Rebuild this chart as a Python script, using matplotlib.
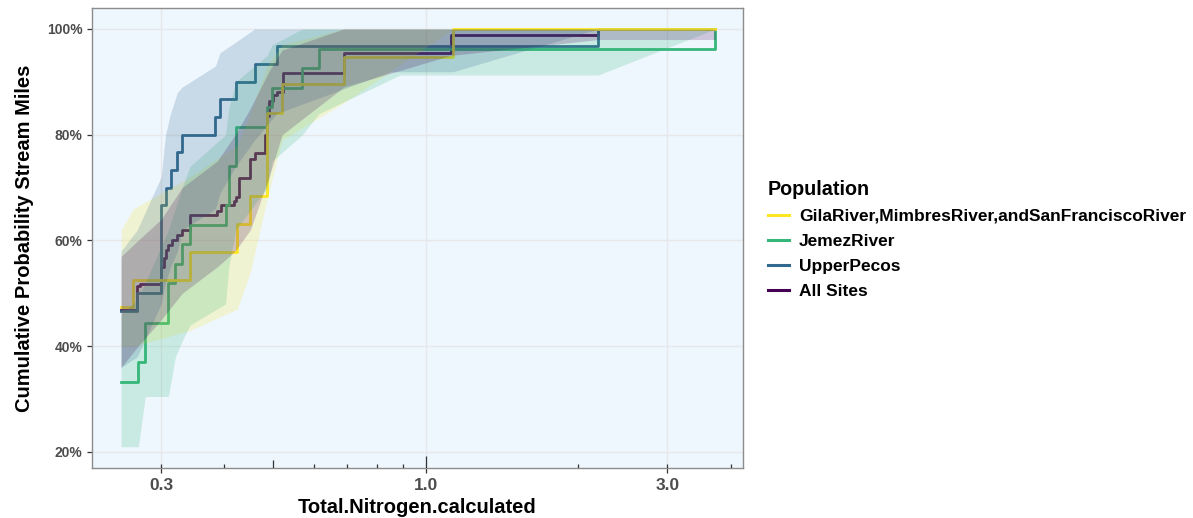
import numpy as np
import matplotlib
matplotlib.use("Agg")
import matplotlib.pyplot as plt
from matplotlib.lines import Line2D

plt.rcParams['font.family'] = ['Liberation Sans', 'DejaVu Sans']

# last x value of the whole data set (lines are carried out to here)
x_end = 3.73

# GilaRiver,MimbresRiver,andSanFranciscoRiver
gila_x = [0.250, 0.2645, 0.342, 0.424, 0.450, 0.486, 0.520, 0.688, 1.131]
gila_y = [47.4, 52.6, 57.9, 63.2, 68.4, 84.2, 89.5, 94.7, 100.0]
gila_band_x = [0.250, 0.2645, 0.342, 0.424, 0.450, 0.486, 0.520, 0.688, 1.131]
gila_lo = [40, 40, 43, 47, 54, 68, 79, 86, 100]
gila_hi = [62, 66, 72, 78, 84, 93, 97, 100, 100]

# JemezRiver
jemez_x = [0.250, 0.2705, 0.279, 0.310, 0.320, 0.330, 0.342, 0.402, 0.408,
           0.421, 0.486, 0.497, 0.570, 0.615, 3.73]
jemez_y = [33.3, 37.0, 44.4, 51.9, 55.6, 59.3, 63.0, 66.7, 74.1,
           81.5, 85.2, 88.9, 92.6, 96.3, 100.0]
jemez_band_x = [0.250, 0.2705, 0.279, 0.310, 0.320, 0.330, 0.342, 0.402, 0.408,
                0.421, 0.486, 0.497, 0.570, 0.615, 0.89, 2.19, 3.73]
jemez_lo = [21, 21, 30.5, 30.5, 38, 41, 44, 48, 55, 62, 70, 75, 80, 84, 91.3, 91.3, 100]
jemez_hi = [46, 49, 52, 62, 66, 70, 74, 80, 85, 90, 95, 97, 100, 100, 100, 100, 100]

# UpperPecos
pecos_x = [0.250, 0.269, 0.300, 0.306, 0.313, 0.323, 0.330, 0.384, 0.392,
           0.421, 0.459, 0.507, 2.19]
pecos_y = [46.7, 50.0, 66.7, 70.0, 73.3, 76.7, 80.0, 83.3, 86.7,
           90.0, 93.3, 96.7, 100.0]
pecos_band_x = [0.250, 0.269, 0.300, 0.306, 0.313, 0.323, 0.330, 0.384, 0.392,
                0.421, 0.459, 0.507, 0.85, 1.13, 2.19]
pecos_lo = [36, 38, 48, 52, 55, 58, 62, 66, 69, 74, 79, 84, 91.9, 91.9, 100]
pecos_hi = [58, 62, 72, 80, 84, 88, 89, 93, 95.5, 97.5, 100, 100, 100, 100, 100]

# All Sites
all_x = [0.250, 0.2686, 0.2726, 0.300, 0.3032, 0.306, 0.310, 0.315, 0.3224,
         0.330, 0.3415, 0.387, 0.393, 0.4173, 0.421, 0.4269, 0.450, 0.4605,
         0.482, 0.486, 0.489, 0.498, 0.507, 0.521, 0.688, 1.121, 2.19]
all_y = [46.9, 51.3, 51.8, 55.0, 56.6, 58.2, 59.1, 60.1, 61.0,
         62.0, 64.8, 65.5, 66.7, 67.5, 68.3, 71.8, 75.5, 76.5,
         80.0, 83.5, 86.3, 87.5, 88.1, 91.7, 95.4, 98.9, 100.0]
all_band_x = [0.250, 0.27, 0.300, 0.330, 0.387, 0.420, 0.450, 0.490, 0.520,
              0.688, 1.12, 2.19]
all_lo = [36, 40, 45, 50, 55, 58, 62, 72, 80, 89, 95, 98]
all_hi = [57, 60, 64, 70, 75, 80, 85, 92, 96, 100, 100, 100]

labels = ["GilaRiver,MimbresRiver,andSanFranciscoRiver", "JemezRiver",
          "UpperPecos", "All Sites"]
colors = ["#FDE725", "#35B779", "#31688E", "#440154"]
line_order = [2.3, 2.2, 2.1, 2.0]

series = [
    (gila_x, gila_y, gila_band_x, gila_lo, gila_hi),
    (jemez_x, jemez_y, jemez_band_x, jemez_lo, jemez_hi),
    (pecos_x, pecos_y, pecos_band_x, pecos_lo, pecos_hi),
    (all_x, all_y, all_band_x, all_lo, all_hi),
]

fig = plt.figure(figsize=(11.93, 5.18), dpi=100)
ax = fig.add_axes([0.0771, 0.0965, 0.5457, 0.8881])
ax.set_facecolor("#EEF6FE")

for (sx, sy, bx, lo, hi), col, z in zip(series, colors, line_order):
    sx = list(sx)
    sy = list(sy)
    if sx[-1] < x_end:
        sx.append(x_end)
        sy.append(sy[-1])
    ax.step(sx, sy, where="post", color=col, linewidth=2.0, zorder=z)

for (sx, sy, bx, lo, hi), col in zip(series, colors):
    bx = list(bx)
    lo = list(lo)
    hi = list(hi)
    if bx[-1] < x_end:
        bx.append(x_end)
        lo.append(lo[-1])
        hi.append(hi[-1])
    ax.fill_between(bx, lo, hi, color=col, alpha=0.2, linewidth=0, zorder=3)

ax.set_xscale("log")
ax.set_xlim(0.219, 4.23)
ax.set_ylim(16.97, 103.97)

ax.set_xticks([0.3, 1.0, 3.0])
ax.set_xticklabels(["0.3", "1.0", "3.0"])
ax.xaxis.set_minor_locator(plt.NullLocator())
ax.set_yticks([20, 40, 60, 80, 100])
ax.set_yticklabels(["20%", "40%", "60%", "80%", "100%"])

ax.grid(True, color="#E6E8EA", linewidth=1.0, zorder=0)
ax.set_axisbelow(True)

ax.tick_params(axis="both", direction="out", length=3.5, width=0.9,
               color="#333333", labelcolor="#4D4D4D", labelsize=10)
ax.tick_params(axis="x", labelsize=12.5, pad=4)
for lab in ax.get_xticklabels() + ax.get_yticklabels():
    lab.set_fontweight("bold")

for sp in ax.spines.values():
    sp.set_color("#8C8C8C")
    sp.set_linewidth(1.0)

# log ticks inside the panel along the bottom
short_ticks = [0.3, 0.4, 0.6, 0.7, 0.8, 0.9, 2.0, 3.0, 4.0]
mid_ticks = [0.5]
long_ticks = [1.0]
trans = ax.get_xaxis_transform()
ax.vlines(short_ticks, 0, 0.009, transform=trans, color="#333333", linewidth=0.9, zorder=5)
ax.vlines(mid_ticks, 0, 0.018, transform=trans, color="#333333", linewidth=0.9, zorder=5)
ax.vlines(long_ticks, 0, 0.027, transform=trans, color="#333333", linewidth=0.9, zorder=5)

ax.set_xlabel("Total.Nitrogen.calculated", fontsize=14.5, fontweight="bold", labelpad=3)
ax.set_ylabel("Cumulative Probability Stream Miles", fontsize=14.5, fontweight="bold", labelpad=9)

handles = [Line2D([0], [0], color=c, linewidth=2.2) for c in colors]
leg = fig.legend(handles, labels, title="Population", loc="upper left",
                 bbox_to_anchor=(0.6363, 0.6696), frameon=False, borderpad=0,
                 handlelength=1.25, handletextpad=0.55, labelspacing=0.57,
                 prop={"size": 12.5, "weight": "bold"},
                 title_fontproperties={"size": 14.2, "weight": "bold"})
leg._legend_box.align = "left"

fig.savefig("out.png", dpi=100)
